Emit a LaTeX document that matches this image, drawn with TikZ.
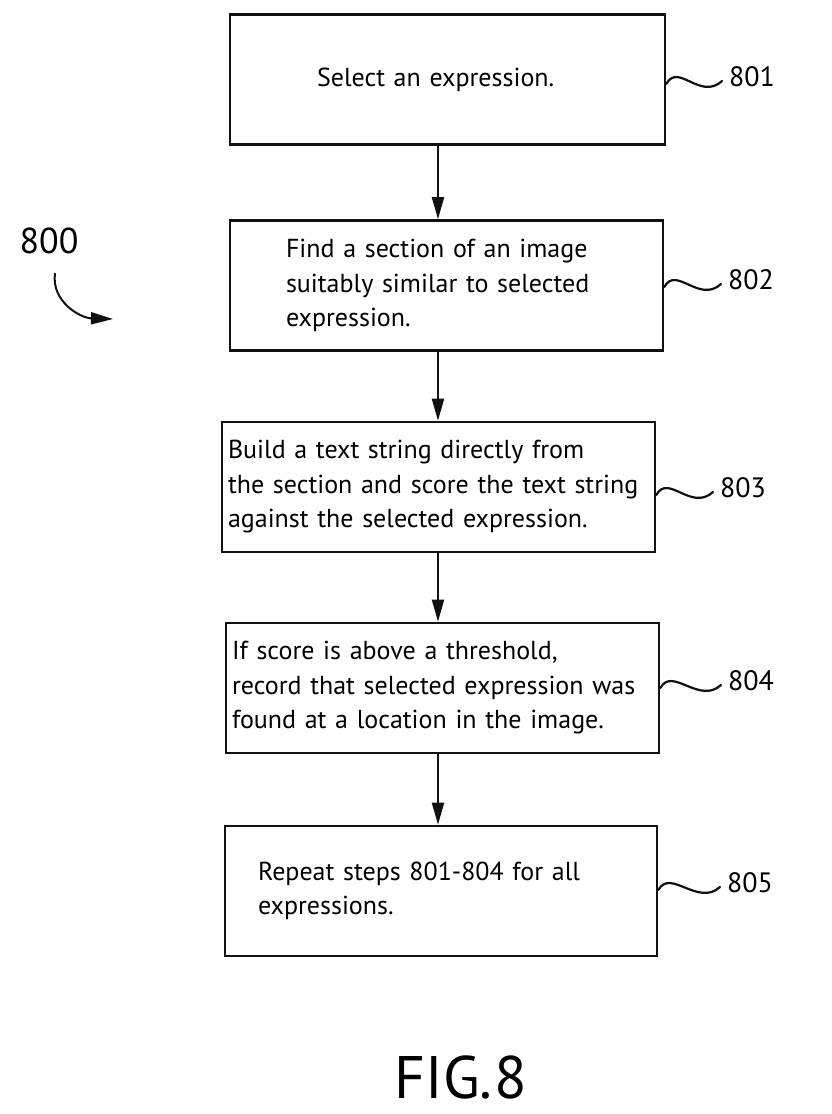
\documentclass[tikz,border=0pt]{standalone}
\usepackage{fontspec}
\setmainfont{PT Sans}
\usepackage{tikz}
\usetikzlibrary{arrows.meta,calc,positioning}
\definecolor{patentink}{HTML}{111111}
\tikzset{
  stepbox/.style={draw=patentink, line width=2.6pt, minimum height=130pt, align=left, inner ysep=0pt, font=\fontsize{26}{34.5}\selectfont},
  reflabel/.style={inner sep=0pt, anchor=west, font=\fontsize{28}{28}\selectfont},
  flowarrow/.style={patentink, line width=2pt, -{Triangle[length=22pt,width=12pt]}},
  squiggle/.style={patentink, line width=2.2pt, line cap=round},
  figlabel/.style={inner sep=0pt, font=\fontsize{60}{60}\selectfont}
}

\begin{document}
\begin{tikzpicture}[x=1pt,y=1pt]
  \useasboundingbox (0,0) rectangle (831,-1114);
  \coordinate (spine) at (438,0);
  \node[stepbox, inner xsep=87pt, text width=261pt] (b1) at (447.5,-79.5) {Select an expression.};
  \node[stepbox, inner xsep=56pt, text width=321pt] (b2) at (446.5,-285.5) {Find a section of an image\\suitably similar to selected\\expression.};
  \node[stepbox, inner xsep=6pt, text width=421pt] (b3) at (438.5,-487) {Build a text string directly from\\the section and score the text string\\against the selected expression.};
  \node[stepbox, inner xsep=6pt, text width=421pt] (b4) at (442.5,-688) {If score is above a threshold,\\record that selected expression was\\found at a location in the image.};
  \node[stepbox, inner xsep=33pt, text width=366pt] (b5) at (441,-891) {Repeat steps 801-804 for all\\expressions.};
  \draw[flowarrow] (b1.south -| spine) -- (b2.north -| spine);
  \draw[flowarrow] (b2.south -| spine) -- (b3.north -| spine);
  \draw[flowarrow] (b3.south -| spine) -- (b4.north -| spine);
  \draw[flowarrow] (b4.south -| spine) -- (b5.north -| spine);
  \node[reflabel] (l801) at (729,-77) {801};
  \node[reflabel] (l802) at (728,-280) {802};
  \node[reflabel] (l803) at (720,-488) {803};
  \node[reflabel] (l804) at (728,-681) {804};
  \node[reflabel] (l805) at (727,-883) {805};
  \foreach \b/\l in {b1/l801,b2/l802,b3/l803,b4/l804,b5/l805}
    \draw[squiggle] ($(\b.east |- \l.west)+(0,-7)$) .. controls +(12,22) and +(-22,-20) .. ($(\l.west)+(-7,-4)$);
  \node[reflabel, anchor=center, font=\fontsize{36}{36}\selectfont] (l800) at (49,-241) {800};
  \coordinate (c800) at (113,-319);
  \draw[flowarrow] ($(l800.south)+(6,-19)$) .. controls +(-4,-28) and +(-33,1) .. (c800);
  \node[figlabel] (fig) at (461,-1077) {FIG.\kern2pt 8};
\end{tikzpicture}
\end{document}
